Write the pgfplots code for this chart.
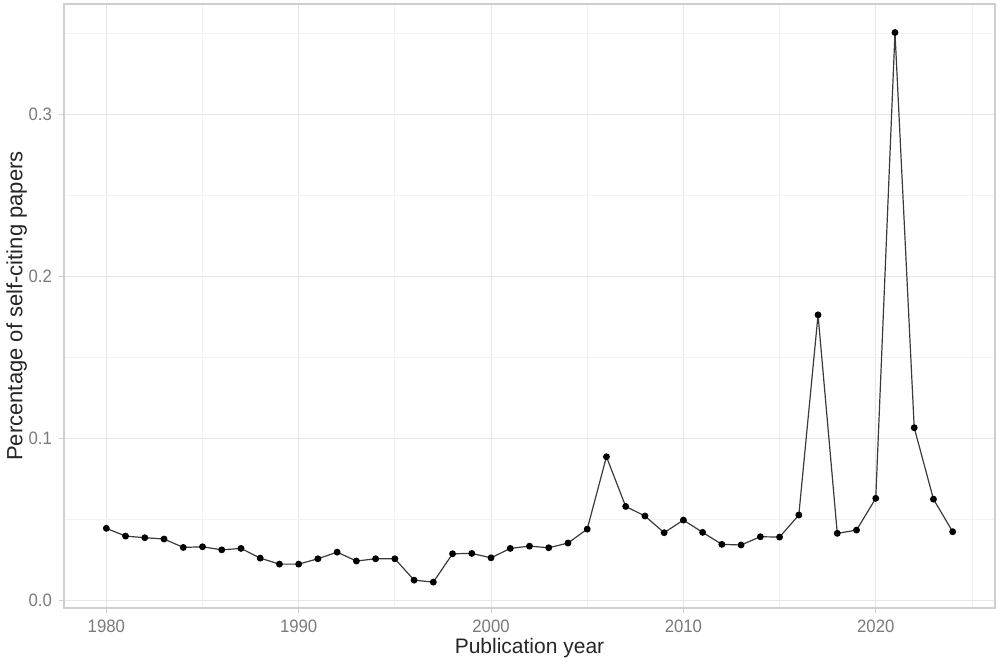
\documentclass[border=0pt]{standalone}
\usepackage{pgfplots}
\pgfplotsset{compat=1.18}
\usepackage{fontspec}
\setmainfont{Liberation Sans}
\newfontfamily\condfont[FakeStretch=0.93]{Liberation Sans}
\definecolor{gridmaj}{HTML}{E6E6E6}
\definecolor{gridmin}{HTML}{F2F2F2}
\definecolor{frame}{HTML}{CFCFCF}
\definecolor{ticklab}{HTML}{7A7A7A}
\definecolor{linec}{HTML}{3A3A3A}
\begin{document}
\begin{tikzpicture}
\useasboundingbox (-32pt,-29pt) rectangle (468pt,304pt);
\begin{axis}[
  at={(0,0)}, anchor=south west,
  scale only axis, width=465.5pt, height=302pt,
  xmin=1977.8, xmax=2026.2, ymin=-0.0049, ymax=0.368,
  xtick={1980,1990,2000,2010,2020},
  minor xtick={1985,1995,2005,2015,2025},
  ytick={0,0.1,0.2,0.3},
  minor ytick={0.05,0.15,0.25,0.35},
  grid=both,
  major grid style={gridmaj, line width=0.5pt},
  minor grid style={gridmin, line width=0.4pt},
  axis line style={frame, line width=0.6pt},
  tick style={frame, line width=0.5pt},
  major tick length=2.5pt, minor tick length=0pt,
  tick align=outside,
  xtick pos=bottom, ytick pos=left,
  /pgf/number format/1000 sep={},
  yticklabel style={/pgf/number format/fixed, /pgf/number format/fixed zerofill, /pgf/number format/precision=1, font=\condfont\fontsize{9}{10}\selectfont, text=ticklab},
  xticklabel style={font=\condfont\fontsize{9}{10}\selectfont, text=ticklab},
  /pgf/number format/assume math mode=true,
  scaled y ticks=false,
  xlabel={Publication year},
  ylabel={Percentage of self-citing papers},
  xlabel style={font=\fontsize{10.5}{12}\selectfont, text=black!85, yshift=4pt},
  ylabel style={font=\fontsize{11}{12}\selectfont, text=black!85, yshift=-6pt},
  clip=false,
]
\addplot[linec, line width=0.6pt, mark=*, mark size=1.4pt, mark options={fill=black, draw=black}] coordinates {
(1980,0.0443) (1981,0.0395) (1982,0.0385) (1983,0.0377) (1984,0.0325)
(1985,0.0329) (1986,0.0310) (1987,0.0319) (1988,0.0259) (1989,0.0222)
(1990,0.0222) (1991,0.0255) (1992,0.0296) (1993,0.0241) (1994,0.0255)
(1995,0.0255) (1996,0.0123) (1997,0.0111) (1998,0.0286) (1999,0.0288)
(2000,0.0261) (2001,0.0319) (2002,0.0333) (2003,0.0323) (2004,0.0352)
(2005,0.0438) (2006,0.0885) (2007,0.0578) (2008,0.0519) (2009,0.0416)
(2010,0.0494) (2011,0.0418) (2012,0.0344) (2013,0.0340) (2014,0.0391)
(2015,0.0389) (2016,0.0525) (2017,0.1761) (2018,0.0412) (2019,0.0432)
(2020,0.0628) (2021,0.3504) (2022,0.1064) (2023,0.0623) (2024,0.0422)
};
\end{axis}
\end{tikzpicture}
\end{document}
